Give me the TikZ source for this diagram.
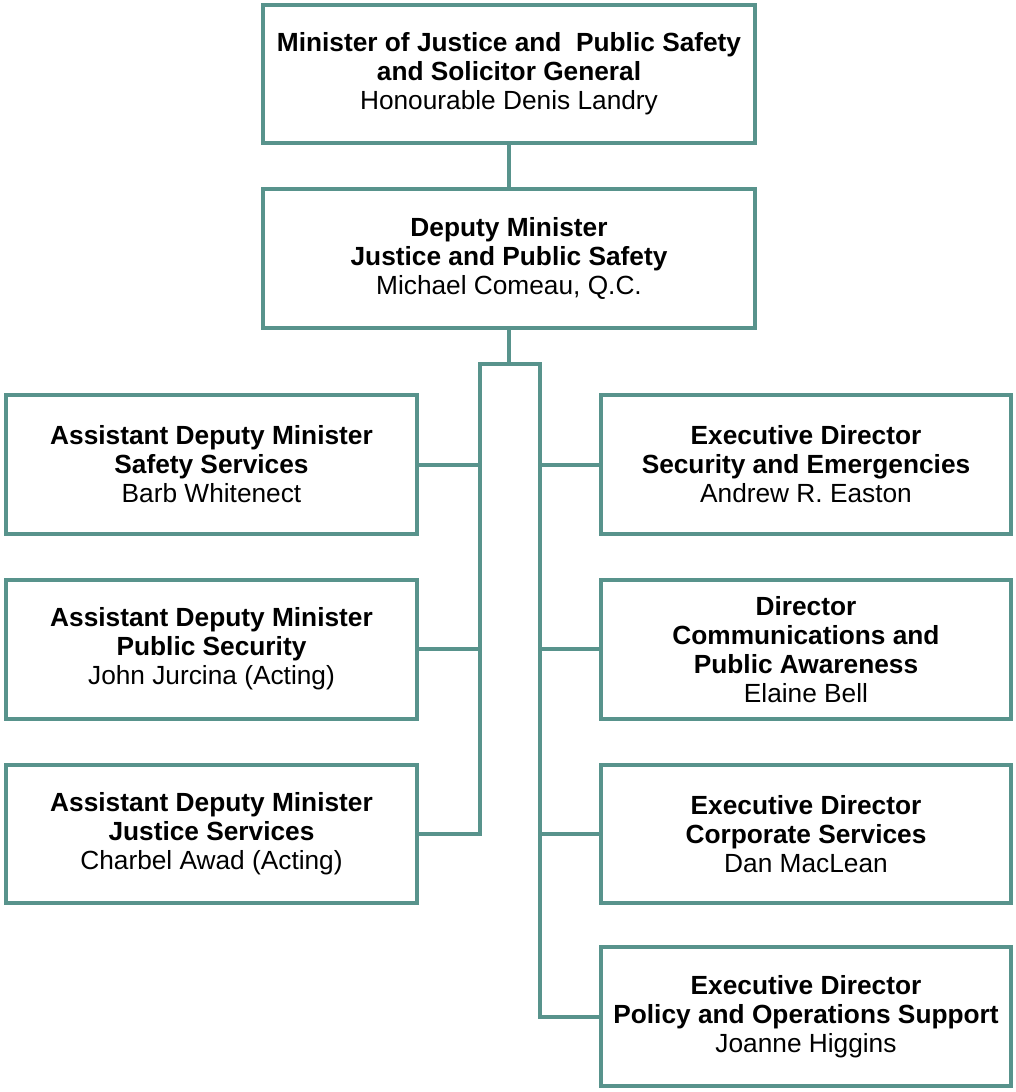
\documentclass[tikz,border=0pt]{standalone}
\usepackage{fontspec}
\setmainfont{Liberation Sans}
\usepackage{tikz}
\usetikzlibrary{positioning}
\definecolor{orgteal}{RGB}{88,147,140}
\tikzset{org box/.style={rectangle,draw=orgteal,line width=3pt,align=center,inner sep=0pt,
    minimum width=308pt,minimum height=104pt,
    font=\fontsize{19.7}{21.75}\selectfont},
  wide box/.style={org box,minimum width=369pt},
  org line/.style={draw=orgteal,line width=3pt,line join=miter}}

\begin{document}
\begin{tikzpicture}[x=0.75pt,y=-0.75pt]
            \useasboundingbox (0,0) rectangle (1015,1092);
            \node[wide box] (min) at (509,74) {\textbf{Minister of Justice and~ Public Safety}\\\textbf{and Solicitor General}\\Honourable Denis Landry};
            \node[wide box] (dep) [below = 31.5pt of min] {\textbf{Deputy Minister}\\\textbf{Justice and Public Safety}\\Michael Comeau, Q.C.};
            \node[org box] (adsafe) at (211.5,464.5) {\textbf{Assistant Deputy Minister}\\\textbf{Safety Services}\\Barb Whitenect};
            \node[org box] (adpub) [below = 31.5pt of adsafe] {\textbf{Assistant Deputy Minister}\\\textbf{Public Security}\\John Jurcina (Acting)};
            \node[org box] (adjus) [below = 31.5pt of adpub] {\textbf{Assistant Deputy Minister}\\\textbf{Justice Services}\\Charbel Awad (Acting)};
            \node[org box] (edsec) at (806,464.5) {\textbf{Executive Director}\\\textbf{Security and Emergencies}\\Andrew R. Easton};
            \node[org box] (dcom) [below = 31.5pt of edsec] {\textbf{Director}\\\textbf{Communications and}\\\textbf{Public Awareness}\\Elaine Bell};
            \node[org box] (edcorp) [below = 31.5pt of dcom] {\textbf{Executive Director}\\\textbf{Corporate Services}\\Dan MacLean};
            \node[org box] (edpol) [below = 30pt of edcorp] {\textbf{Executive Director}\\\textbf{Policy and Operations Support}\\Joanne Higgins};

            \coordinate (jl) at (480,364);
            \coordinate (jr) at (540,364);

            \path[org line]
            (min) -- (dep)
            (dep.south) -- (dep.south |- jl)
            (adjus.east) -| (jl) -- (jr) |- (edpol.west)
            (adsafe.east) -- (adsafe.east -| jl)
            (adpub.east) -- (adpub.east -| jl)
            (edsec.west) -- (edsec.west -| jr)
            (dcom.west) -- (dcom.west -| jr)
            (edcorp.west) -- (edcorp.west -| jr);
        \end{tikzpicture}
\end{document}
